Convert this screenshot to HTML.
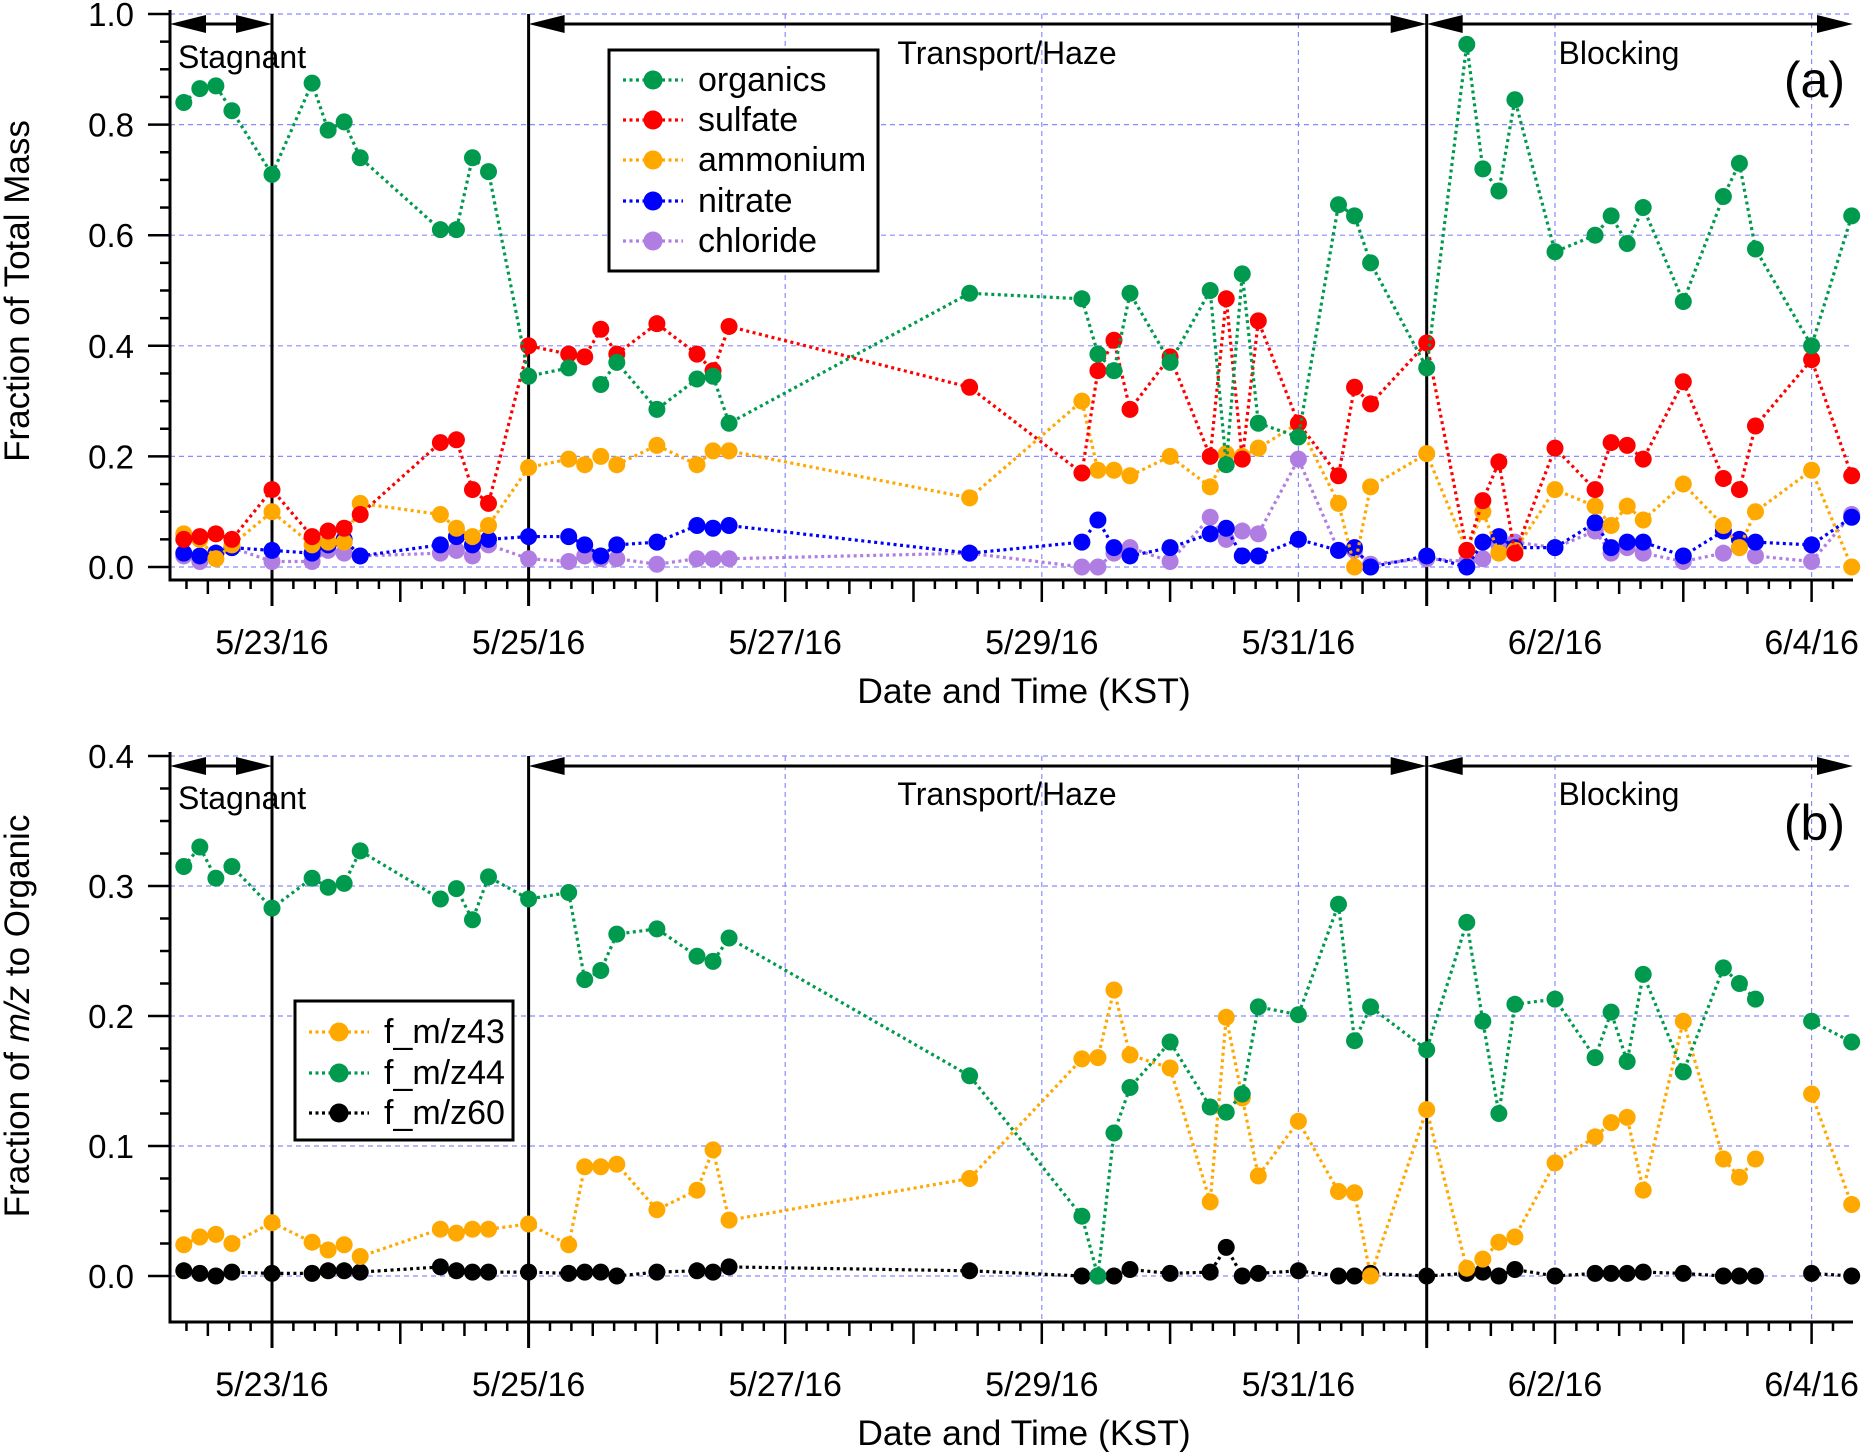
<!DOCTYPE html>
<html><head><meta charset="utf-8"><style>
html,body{margin:0;padding:0;background:#fff}
svg{display:block}
text{font-family:"Liberation Sans Narrow","Liberation Sans",sans-serif;fill:#000}
</style></head><body>
<svg id="chart" width="1863" height="1452" viewBox="0 0 1863 1452" xmlns="http://www.w3.org/2000/svg"></svg>
<script>
// Sampling times, days relative to 5/23/16 00:00 KST
const times = [-0.6875,-0.5625,-0.4375,-0.3125,0,0.3125,0.4375,0.5625,0.6875,1.3125,1.4375,1.5625,1.6875,2,2.3125,2.4375,2.5625,2.6875,3,3.3125,3.4375,3.5625,5.4375,6.3125,6.4375,6.5625,6.6875,7,7.3125,7.4375,7.5625,7.6875,8,8.3125,8.4375,8.5625,9,9.3125,9.4375,9.5625,9.6875,10,10.3125,10.4375,10.5625,10.6875,11,11.3125,11.4375,11.5625,12,12.3125];
const dateLabels = ["5/23/16","5/25/16","5/27/16","5/29/16","5/31/16","6/2/16","6/4/16"];
const dateDays = [0,2,4,6,8,10,12];
const yTicksA = [0,0.2,0.4,0.6,0.8,1.0];
const yTicksB = [0,0.1,0.2,0.3,0.4];
const periodBounds = [0,2,9];
// (a) fractions of total mass
const organics = [.84,.865,.87,.825,.71,.875,.79,.805,.74,.61,.61,.74,.715,.345,.36,null,.33,.37,.285,.34,.345,.26,.495,.485,.385,.355,.495,.37,.5,.185,.53,.26,.235,.655,.635,.55,.36,.945,.72,.68,.845,.57,.6,.635,.585,.65,.48,.67,.73,.575,.40,.635];
const sulfate = [.05,.055,.06,.05,.14,.055,.065,.07,.095,.225,.23,.14,.115,.40,.385,.38,.43,.385,.44,.385,.355,.435,.325,.17,.355,.41,.285,.38,.2,.485,.195,.445,.26,.165,.325,.295,.405,.03,.12,.19,.025,.215,.14,.225,.22,.195,.335,.16,.14,.255,.375,.165];
const ammonium = [.06,.05,.015,.04,.10,.04,.045,.045,.115,.095,.07,.055,.075,.18,.195,.185,.2,.185,.22,.185,.21,.21,.125,.30,.175,.175,.165,.20,.145,.205,.20,.215,.26,.115,.0,.145,.205,.03,.10,.025,.03,.14,.11,.075,.11,.085,.15,.075,.035,.10,.175,.0];
const nitrate = [.025,.02,.025,.035,.03,.025,.04,.05,.02,.04,.055,.04,.05,.055,.055,.04,.02,.04,.045,.075,.07,.075,.025,.045,.085,.035,.02,.035,.06,.07,.02,.02,.05,.03,.035,.0,.02,.0,.045,.055,.035,.035,.08,.035,.045,.045,.02,.065,.05,.045,.04,.09];
const chloride = [.02,.01,.025,.035,.01,.01,.03,.025,.02,.025,.03,.02,.04,.015,.01,.02,.015,.015,.005,.015,.015,.015,.025,.0,.0,.025,.035,.01,.09,.05,.065,.06,.195,.03,.03,.005,.015,.01,.015,.04,.045,.035,.065,.025,.035,.025,.01,.025,.035,.02,.01,.095];
// (b) fractions of m/z to organic
const mz43 = [.024,.03,.032,.025,.041,.026,.02,.024,.015,.036,.033,.036,.036,.04,.024,.084,.084,.086,.051,.066,.097,.043,.075,.167,.168,.22,.17,.16,.057,.199,.137,.077,.119,.065,.064,.0,.128,.006,.013,.026,.03,.087,.107,.118,.122,.066,.196,.09,.076,.09,.14,.055];
const mz44 = [.315,.33,.306,.315,.283,.306,.299,.302,.327,.29,.298,.274,.307,.29,.295,.228,.235,.263,.267,.246,.242,.26,.154,.046,.0,.11,.145,.18,.13,.126,.14,.207,.201,.286,.181,.207,.174,.272,.196,.125,.209,.213,.168,.203,.165,.232,.157,.237,.225,.213,.196,.18];
const mz60 = [.004,.002,.0,.003,.002,.002,.004,.004,.003,.007,.004,.003,.003,.003,.002,.003,.003,.0,.003,.004,.003,.007,.004,.0,.0,.0,.005,.002,.003,.022,.0,.002,.004,.0,.0,.002,.0,.002,.003,.0,.005,.0,.002,.002,.002,.003,.002,.0,.0,.0,.002,.0];
const gapAfterB = 11.5625; // break in (b) series

const NS="http://www.w3.org/2000/svg";
const svg=document.getElementById('chart');
const X0=170,X1=1853;
const xS=d=>272+d*128.3;
const panels=[
 {key:'a',yS:v=>567-v*553,top:14,axisY:580,ticks:yTicksA,minor:0.05,arrowY:24,labY:[68,64],tag:'(a)',tagY:97,title:'Fraction of Total Mass',titleY:291},
 {key:'b',yS:v=>1276-v*1300,top:756,axisY:1322,ticks:yTicksB,minor:0.025,arrowY:766,labY:[809,805],tag:'(b)',tagY:840,title:'Fraction of m/z to Organic',titleY:1016}
];
function mk(tag,attrs,parent){const e=document.createElementNS(NS,tag);for(const k in attrs)e.setAttribute(k,attrs[k]);(parent||svg).appendChild(e);return e;}

panels.forEach(P=>{
 const g=mk('g',{});
 
 
 P.ticks.forEach(v=>{const l=mk('line',{x1:X0,x2:X1,y1:P.yS(v),y2:P.yS(v),stroke:'#8a8aff','stroke-width':1.2,'stroke-dasharray':'5 4'},g);
  });
 dateDays.forEach(d=>{const l=mk('line',{x1:xS(d),x2:xS(d),y1:P.top,y2:P.axisY,stroke:'#8a8aff','stroke-width':1.2,'stroke-dasharray':'5 4'},g);
  });
 const ya=mk('line',{x1:X0,x2:X0,y1:P.top-4,y2:P.axisY+1.5,stroke:'#000','stroke-width':3},g);
 
 const xa=mk('line',{x1:X0-1.5,x2:X1,y1:P.axisY,y2:P.axisY,stroke:'#000','stroke-width':3},g);
 
 const maxV=P.ticks[P.ticks.length-1];
 for(let i=0;i<=Math.round(maxV/P.minor);i++){const v=i*P.minor;const major=P.ticks.some(t=>Math.abs(t-v)<1e-6);
  mk('line',{x1:X0-(major?22:10),x2:X0,y1:P.yS(v),y2:P.yS(v),stroke:'#000','stroke-width':2.5},g);}
 P.ticks.forEach(v=>{const t=mk('text',{x:134,y:P.yS(v)+12,'text-anchor':'end','font-size':33},g);t.textContent=v.toFixed(1);
  });
 for(let h=-16;h<=12.4*24;h+=4){const d=h/24;const x=xS(d);if(x<X0-1||x>X1+1)continue;
  const len=(h%24===0)?22:((h%12===0)?14:9);
  mk('line',{x1:x,x2:x,y1:P.axisY,y2:P.axisY+len,stroke:'#000','stroke-width':2.5},g);}
 dateDays.forEach((d,i)=>{const t=mk('text',{x:xS(d),y:P.axisY+74,'text-anchor':'middle','font-size':34},g);t.textContent=dateLabels[i];
  });
 const xt=mk('text',{x:1024,y:P.axisY+123,'text-anchor':'middle','font-size':35.5},g);xt.textContent='Date and Time (KST)';
 
 const yt=mk('text',{x:0,y:0,'text-anchor':'middle','font-size':35,transform:`translate(29,${P.titleY}) rotate(-90)`},g);
 if(P.key==='a'){yt.textContent=P.title;}else{yt.innerHTML='Fraction of <tspan font-style="italic">m/z</tspan> to Organic';}
 
 periodBounds.forEach(d=>{const l=mk('line',{x1:xS(d),x2:xS(d),y1:P.top,y2:P.axisY+26,stroke:'#000','stroke-width':3},g);
  });
 const spans=[[X0,xS(0),'Stagnant',178],[xS(2),xS(9),'Transport/Haze',1007],[xS(9),X1,'Blocking',1619]];
 spans.forEach(([a,b,lab,lx],i)=>{const y=P.arrowY;
  mk('line',{x1:a+20,x2:b-20,y1:y,y2:y,stroke:'#000','stroke-width':3},g);
  mk('polygon',{points:`${a},${y} ${a+36},${y-9} ${a+36},${y+9}`,fill:'#000'},g);
  mk('polygon',{points:`${b},${y} ${b-36},${y-9} ${b-36},${y+9}`,fill:'#000'},g);
  const t=mk('text',{x:lx,y:P.labY[i===0?0:1],'text-anchor':i===0?'start':'middle','font-size':32},g);t.textContent=lab;
  });
 const tg=mk('text',{x:1845,y:P.tagY,'text-anchor':'end','font-size':50},g);tg.textContent=P.tag;
 
});

function drawSeries(vals,color,yS,name,breakAfter){
 const g=mk('g',{});
 
 
 let segs=[],cur=[];
 vals.forEach((v,i)=>{if(v===null){if(cur.length)segs.push(cur);cur=[];return;}
  cur.push([xS(times[i]),yS(v)]);
  if(breakAfter!==undefined&&times[i]===breakAfter){segs.push(cur);cur=[];}});
 if(cur.length)segs.push(cur);
 segs.forEach(s=>{const p=mk('polyline',{points:s.map(q=>q.join(',')).join(' '),fill:'none',stroke:color,'stroke-width':3.2,'stroke-dasharray':'3 3.5'},g);
  });
 vals.forEach((v,i)=>{if(v===null)return;const c=mk('circle',{cx:xS(times[i]),cy:yS(v),r:8.5,fill:color},g);
  });
}
const yA=panels[0].yS,yB=panels[1].yS;
drawSeries(chloride,'#b07ee2',yA,'chloride');
drawSeries(nitrate,'#0000ff',yA,'nitrate');
drawSeries(ammonium,'#ffa800',yA,'ammonium');
drawSeries(sulfate,'#ff0000',yA,'sulfate');
drawSeries(organics,'#009a4e',yA,'organics');
drawSeries(mz60,'#000000',yB,'mz60',gapAfterB);
drawSeries(mz43,'#ffa800',yB,'mz43',gapAfterB);
drawSeries(mz44,'#009a4e',yB,'mz44',gapAfterB);

function legend(x,y,w,h,items,name,mx,tx,rows){
 const g=mk('g',{});
 
 
 mk('rect',{x:x,y:y,width:w,height:h,fill:'#fff',stroke:'#000','stroke-width':3},g);
 items.forEach((it,i)=>{const yy=rows[i];
  mk('line',{x1:mx-30,x2:mx+30,y1:yy,y2:yy,stroke:it[1],'stroke-width':3.2,'stroke-dasharray':'3 3.5'},g);
  mk('circle',{cx:mx,cy:yy,r:9.5,fill:it[1]},g);
  const t=mk('text',{x:tx,y:yy+11,'font-size':34},g);t.textContent=it[0];
  });
}
legend(609,50,269,221,[['organics','#009a4e'],['sulfate','#ff0000'],['ammonium','#ffa800'],['nitrate','#0000ff'],['chloride','#b07ee2']],'legend-a',653,698,[80,120,160,201,241]);
legend(295,1001,218,139,[['f_m/z43','#ffa800'],['f_m/z44','#009a4e'],['f_m/z60','#000000']],'legend-b',339,384,[1032,1073,1113]);
</script>
</body></html>
